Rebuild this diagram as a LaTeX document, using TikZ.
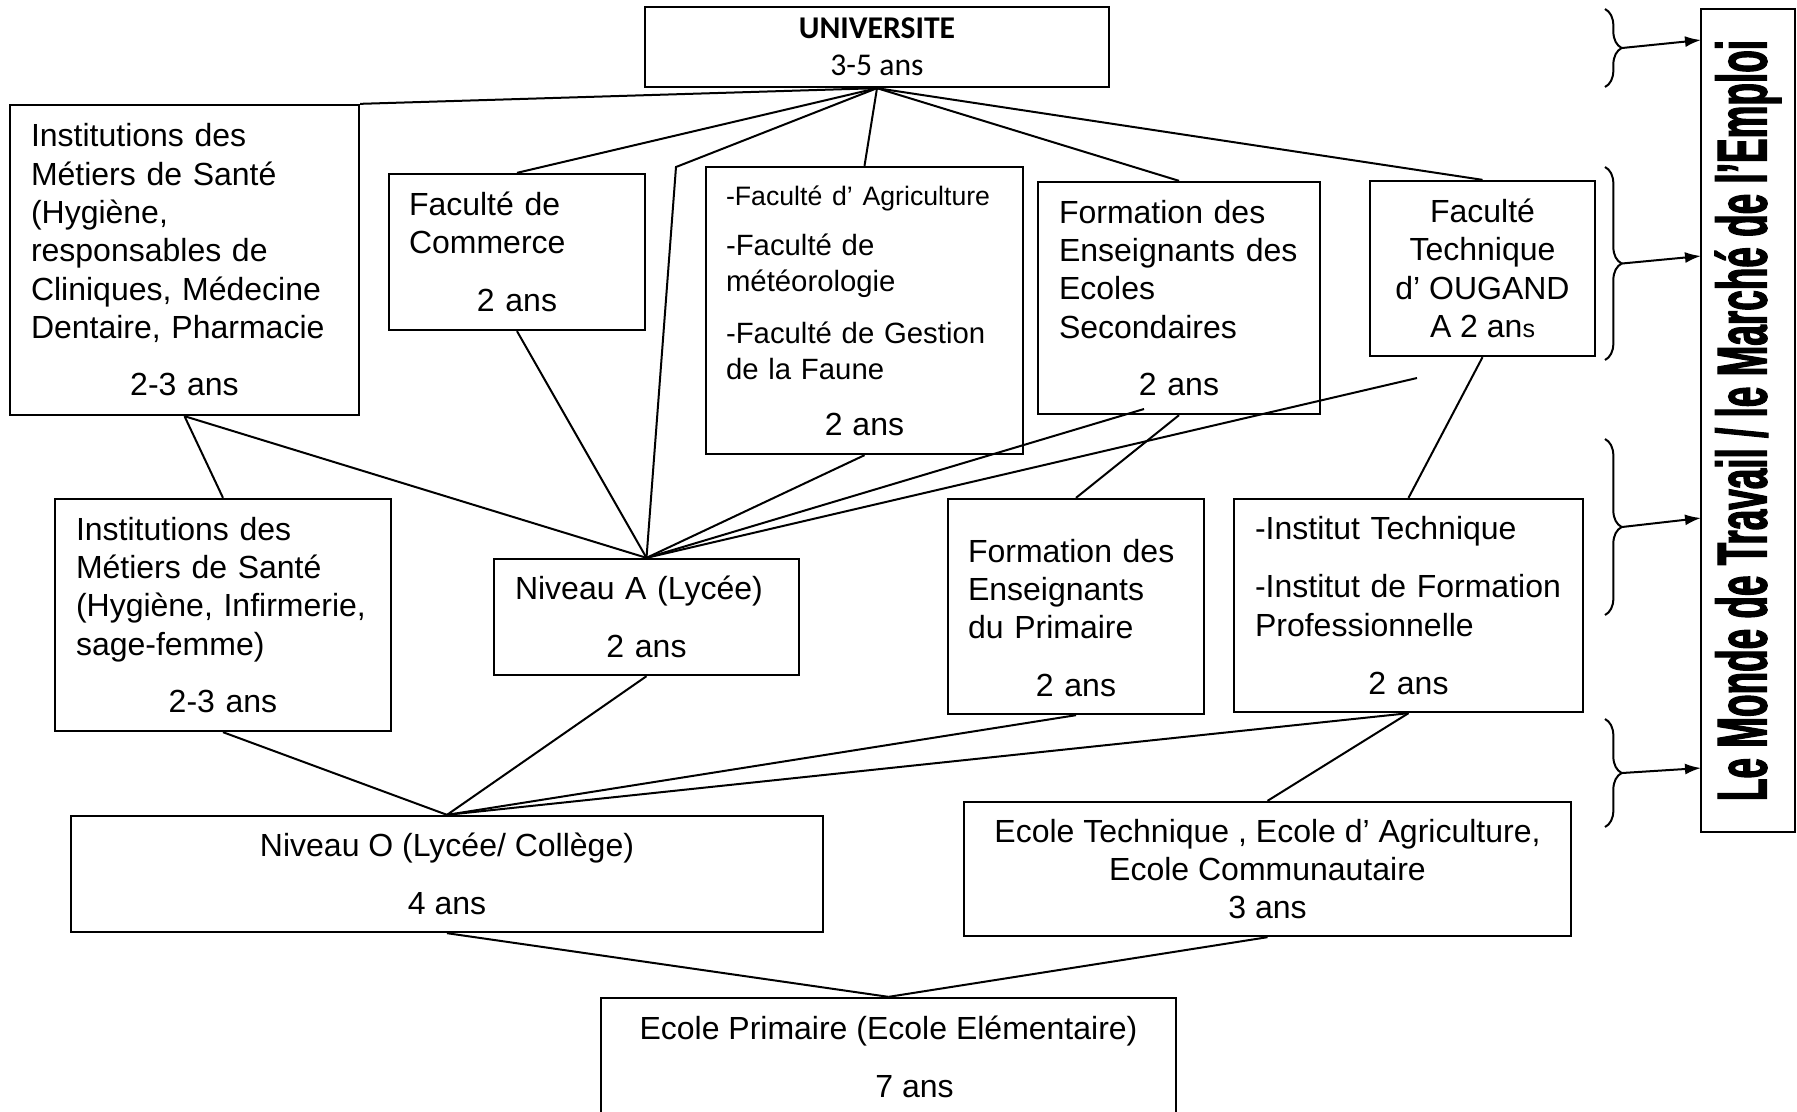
\documentclass[tikz,border=0pt]{standalone}
\usepackage{fontspec}
\setmainfont{Liberation Sans}
\newfontfamily\calfont{Carlito}
\newfontfamily\narrowfont[FakeStretch=0.52,FakeBold=1.5]{Liberation Sans}
\usetikzlibrary{arrows.meta, decorations.pathreplacing}

\begin{document}
\begin{tikzpicture}[
    x=0.3pt, y=-0.3pt,
    box/.style={draw, rectangle, line width=0.7pt, inner xsep=6.3pt, inner ysep=0pt, align=left, font=\fontsize{9.6}{11.5}\selectfont},
    cbox/.style={box, align=center},
    line/.style={line width=0.6pt},
    arrow/.style={-{Latex[length=4.8pt, width=3.3pt]}, line width=0.6pt},
    curly/.style={decorate, decoration={brace, amplitude=5pt}, line width=0.6pt}
]
\useasboundingbox (0,0) rectangle (1797,1111);

\node[cbox, minimum width=139.2pt, minimum height=24pt, font=\calfont\fontsize{9.5}{11.1}\selectfont] (univ) at (877,47) {\textbf{UNIVERSITE}\\3-5 ans};

\node[box, text width=92.1pt, minimum height=93pt] (inst1) at (184.5,260) {Institutions des\\Métiers de Santé\\(Hygiène,\\responsables de\\Cliniques, Médecine\\Dentaire, Pharmacie\\[5.7pt]\makebox[\hsize]{2-3 ans}};
\node[box, inner xsep=6pt, text width=64.8pt, minimum height=46.8pt] (commerce) at (517,252) {Faculté de\\Commerce\\[6pt]\makebox[\hsize]{2 ans}};
\node[box, inner xsep=6pt, text width=83.1pt, minimum height=86.1pt, font=\fontsize{8.8}{10.8}\selectfont] (agri) at (864.5,310.5) {{\fontsize{8}{9.6}\selectfont -Faculté d’ Agriculture}\\[4.2pt]-Faculté de\\météorologie\\[4.8pt]-Faculté de Gestion\\de la Faune\\[6pt]\makebox[\hsize]{\fontsize{9.6}{11.5}\selectfont 2 ans}};
\node[box, text width=72pt, minimum height=69.6pt] (formsec) at (1179,298) {Formation des\\Enseignants des\\Ecoles\\Secondaires\\[5.7pt]\makebox[\hsize]{2 ans}};
\node[cbox, minimum width=67.5pt, minimum height=52.5pt] (factech) at (1482.5,268.5) {Faculté\\Technique\\d’ OUGAND\\A 2 an{\fontsize{7.5}{9}\selectfont s}};

\node[box, text width=88.2pt, minimum height=69.6pt] (inst2) at (223,615) {Institutions des\\Métiers de Santé\\(Hygiène, Infirmerie,\\sage-femme)\\[5.7pt]\makebox[\hsize]{2-3 ans}};
\node[box, text width=78.9pt, minimum height=34.8pt] (niva) at (646.5,617) {Niveau A (Lycée)\\[5.7pt]\makebox[\hsize]{2 ans}};
\node[box, inner xsep=6pt, text width=64.8pt, minimum height=64.5pt] (primaire) at (1076,606.5) {\rule{0pt}{13.6pt}Formation des\\Enseignants\\du Primaire\\[5.7pt]\makebox[\hsize]{2 ans}};
\node[box, text width=92.1pt, minimum height=63.9pt] (insttech) at (1408.5,605.5) {-Institut Technique\\[6pt]-Institut de Formation\\Professionnelle\\[6pt]\makebox[\hsize]{2 ans}};

\node[cbox, minimum width=225.6pt, minimum height=34.8pt] (nivo) at (447,874) {Niveau O (Lycée/ Collège)\\[5.7pt]4 ans};
\node[cbox, minimum width=182.1pt, minimum height=40.2pt] (ecoletech) at (1267.5,869) {Ecole Technique , Ecole d’ Agriculture,\\Ecole Communautaire\\3 ans};
\node[cbox, minimum width=172.5pt, minimum height=35.4pt] (ecoleprim) at (888.5,1057) {Ecole Primaire (Ecole Elémentaire)\\[5.7pt]\hspace*{15.6pt}7 ans};

\node[draw, line width=0.7pt, rotate=90, minimum width=246.9pt, minimum height=28.2pt, inner sep=0pt, font=\narrowfont\bfseries\fontsize{21.3}{24}\selectfont] (monde) at (1748,420.5) {Le Monde de Travail / le Marché de l’Emploi};

% free ends
\coordinate (bend) at (676,167);
\coordinate (secend) at (1144,409);
\coordinate (techend) at (1417,378);

\draw[line] (univ.south) -- (inst1.north east);
\draw[line] (univ.south) -- (commerce.north);
\draw[line] (univ.south) -- (bend) -- (niva.north);
\draw[line] (univ.south) -- (agri.north);
\draw[line] (univ.south) -- (formsec.north);
\draw[line] (univ.south) -- (factech.north);

\draw[line] (inst1.south) -- (inst2.north);
\draw[line] (inst1.south) -- (niva.north);
\draw[line] (commerce.south) -- (niva.north);
\draw[line] (agri.south) -- (niva.north);
\draw[line] (secend) -- (niva.north);
\draw[line] (techend) -- (niva.north);
\draw[line] (formsec.south) -- (primaire.north);
\draw[line] (factech.south) -- (insttech.north);

\draw[line] (inst2.south) -- (nivo.north);
\draw[line] (niva.south) -- (nivo.north);
\draw[line] (primaire.south) -- (nivo.north);
\draw[line] (insttech.south) -- (nivo.north);
\draw[line] (insttech.south) -- (ecoletech.north);

\draw[line] (nivo.south) -- (ecoleprim.north);
\draw[line] (ecoletech.south) -- (ecoleprim.north);

% braces to the right
\draw[curly] (1605,9) -- (1605,87);
\draw[curly] (1605,167) -- (1605,360);
\draw[curly] (1605,439) -- (1605,615);
\draw[curly] (1605,719) -- (1605,827);

\coordinate (tip1) at (1622,48);
\coordinate (tip2) at (1622,263.5);
\coordinate (tip3) at (1622,527);
\coordinate (tip4) at (1622,773);
\coordinate (in1) at (1701,40);
\coordinate (in2) at (1701,256);
\coordinate (in3) at (1701,518);
\coordinate (in4) at (1701,768);

\draw[arrow] (tip1) -- (in1);
\draw[arrow] (tip2) -- (in2);
\draw[arrow] (tip3) -- (in3);
\draw[arrow] (tip4) -- (in4);

\end{tikzpicture}
\end{document}
